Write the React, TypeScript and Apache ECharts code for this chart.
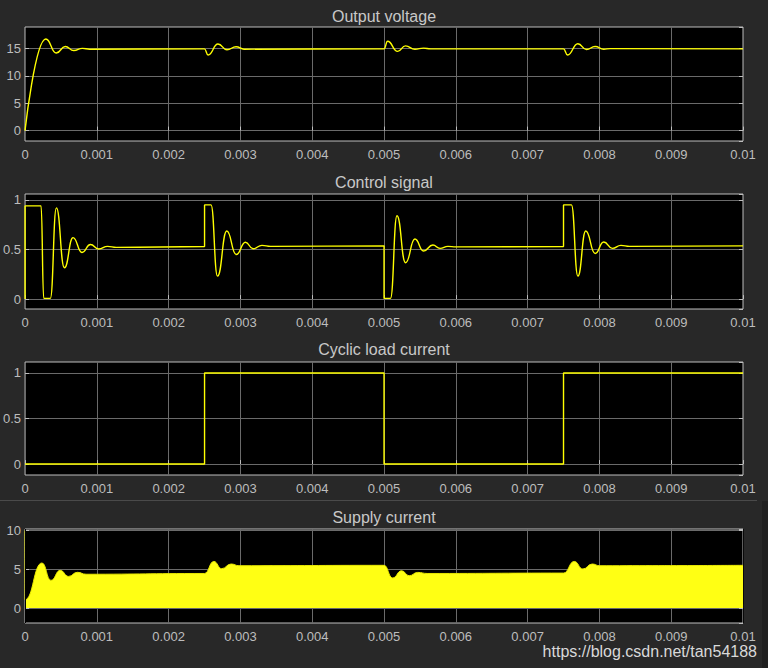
import React, { useEffect, useRef } from "react";
import * as echarts from "echarts";

// Time axis (s)
const timeMin = 0;
const timeMax = 0.01;
const timeStep = 0.001;

const panelTitles = ["Output voltage", "Control signal", "Cyclic load current", "Supply current"];

// Output voltage [t, V]
const outputVoltage: [number, number][] = [
  [0, 0],
  [0.00029, 16.7],
  [0.000436, 14.15],
  [0.00056, 15.35],
  [0.00068, 14.6],
  [0.0008, 15.0],
  [0.0009, 14.85],
  [0.0025, 14.9],
  [0.00255, 13.8],
  [0.002688, 15.8],
  [0.002813, 14.75],
  [0.00294, 15.3],
  [0.00305, 14.85],
  [0.005, 14.9],
  [0.00505, 16.3],
  [0.00519, 14.45],
  [0.0053, 15.45],
  [0.00543, 14.85],
  [0.00555, 15.05],
  [0.00565, 14.9],
  [0.0075, 14.9],
  [0.007557, 13.8],
  [0.0077, 15.85],
  [0.00782, 14.8],
  [0.00794, 15.35],
  [0.00806, 14.85],
  [0.00815, 14.95],
  [0.01, 14.9],
];

// Control signal [t, duty]
const controlSignal: [number, number][] = [
  [0, 0],
  [0, 0.94],
  [0.000223, 0.94],
  [0.00026, 0.007],
  [0.000352, 0.007],
  [0.000436, 0.92],
  [0.000548, 0.316],
  [0.000668, 0.62],
  [0.000793, 0.47],
  [0.00091, 0.55],
  [0.001025, 0.505],
  [0.00115, 0.532],
  [0.00127, 0.522],
  [0.0025, 0.53],
  [0.0025, 0.95],
  [0.00259, 0.95],
  [0.00268, 0.232],
  [0.00281, 0.687],
  [0.00294, 0.45],
  [0.00307, 0.573],
  [0.003175, 0.508],
  [0.0033, 0.542],
  [0.00342, 0.532],
  [0.005, 0.537],
  [0.005, 0.007],
  [0.00509, 0.007],
  [0.00518, 0.84],
  [0.0053, 0.367],
  [0.00543, 0.606],
  [0.00555, 0.485],
  [0.00568, 0.545],
  [0.00578, 0.512],
  [0.00589, 0.532],
  [0.006, 0.527],
  [0.0075, 0.53],
  [0.0075, 0.95],
  [0.00761, 0.95],
  [0.0077, 0.232],
  [0.00781, 0.687],
  [0.00794, 0.46],
  [0.00806, 0.576],
  [0.00818, 0.512],
  [0.0083, 0.542],
  [0.00842, 0.532],
  [0.01, 0.537],
];

// Cyclic load current [t, A]
const loadCurrent: [number, number][] = [
  [0, 0],
  [0.0025, 0],
  [0.0025, 1],
  [0.005, 1],
  [0.005, 0],
  [0.0075, 0],
  [0.0075, 1],
  [0.01, 1],
];

// Supply current envelope [t, A] (switching current fills 0..envelope)
const supplyEnvelope: [number, number][] = [
  [0, 10],
  [0, 1.07],
  [0.000236, 5.8],
  [0.000362, 3.56],
  [0.00049, 4.85],
  [0.000607, 4.07],
  [0.00073, 4.6],
  [0.00085, 4.35],
  [0.0025, 4.45],
  [0.00263, 6.0],
  [0.00274, 5.07],
  [0.00287, 5.67],
  [0.00298, 5.45],
  [0.005, 5.5],
  [0.00512, 3.87],
  [0.005245, 4.8],
  [0.00535, 4.16],
  [0.00547, 4.59],
  [0.0056, 4.45],
  [0.0075, 4.5],
  [0.00765, 6.0],
  [0.00777, 5.03],
  [0.0079, 5.67],
  [0.008, 5.45],
  [0.01, 5.5],
];

// Instants where the switch stays off for a whole period (dark streaks)
const supplyGaps = [
  0.00005, 0.0001, 0.000134, 0.000167, 0.0002, 0.00025, 0.00028, 0.00031, 0.00035, 0.00038,
  0.002527, 0.00258, 0.00505, 0.0051, 0.007535, 0.00758,
];

// y-axis ranges and tick steps
const yMins = [-1.9, -0.1, -0.12, -1.93];
const yMaxs = [18.9, 1.06, 1.12, 10.18];
const ySteps = [5, 0.5, 0.5, 5];

const FONT = '"Liberation Sans", Arial, Helvetica, sans-serif';
const gridTops = [27, 194, 362, 529];
const gridHeights = [114, 115, 113, 94];
const titleYs = [16, 182.5, 349.5, 517.5];

export default function App() {
  const ref = useRef<HTMLDivElement>(null);
  useEffect(() => {
    if (!ref.current) return;
    const chart = echarts.init(ref.current, null, { renderer: "svg" });
    const tickLabel = { color: "#bdbdbd", fontSize: 13, fontFamily: FONT };
    const grids = gridTops.map((top, i) => ({
      left: 25,
      width: 718,
      top,
      height: gridHeights[i],
      show: true,
      backgroundColor: "#000000",
      borderColor: "#bdbdbd",
      borderWidth: 1,
    }));
    const xAxes = gridTops.map((_, i) => ({
      type: "value",
      gridIndex: i,
      min: timeMin,
      max: timeMax,
      interval: timeStep,
      axisLine: { show: false },
      axisTick: { show: true, inside: true, length: 4, lineStyle: { color: "#bdbdbd" } },
      axisLabel: { ...tickLabel, margin: 7, hideOverlap: false },
      splitLine: { show: true, showMinLine: false, showMaxLine: false, lineStyle: { color: "#6a6a6a", width: 1 } },
    }));
    const yAxes: any[] = [];
    gridTops.forEach((_, i) => {
      yAxes.push({
        type: "value",
        gridIndex: i,
        min: yMins[i],
        max: yMaxs[i],
        minInterval: ySteps[i],
        maxInterval: ySteps[i],
        splitNumber: 4,
        axisLine: { show: false },
        axisTick: { show: true, inside: true, length: 4, lineStyle: { color: "#bdbdbd" } },
        axisLabel: { ...tickLabel, margin: 4, showMinLabel: false, showMaxLabel: false },
        splitLine: { show: true, showMinLine: false, showMaxLine: false, lineStyle: { color: "#6a6a6a", width: 1 } },
      });
    });
    gridTops.forEach((_, i) => {
      yAxes.push({
        type: "value",
        gridIndex: i,
        position: "right",
        min: yMins[i],
        max: yMaxs[i],
        minInterval: ySteps[i],
        maxInterval: ySteps[i],
        splitNumber: 4,
        axisLine: { show: false },
        axisTick: { show: true, inside: true, length: 4, lineStyle: { color: "#bdbdbd" } },
        axisLabel: { show: false },
        splitLine: { show: false },
      });
    });
    const lineStyle = { color: "#ffff00", width: 1.4 };
    const option: any = {
      animation: false,
      backgroundColor: "#282828",
      grid: grids,
      xAxis: xAxes,
      yAxis: yAxes,
      series: [
        {
          type: "line",
          xAxisIndex: 0,
          yAxisIndex: 0,
          data: outputVoltage,
          showSymbol: false,
          symbol: "none",
          smooth: 0.5,
          smoothMonotone: "x",
          lineStyle,
        },
        {
          type: "line",
          xAxisIndex: 1,
          yAxisIndex: 1,
          data: controlSignal,
          showSymbol: false,
          symbol: "none",
          smooth: 0.5,
          smoothMonotone: "x",
          lineStyle,
        },
        {
          type: "line",
          xAxisIndex: 2,
          yAxisIndex: 2,
          data: loadCurrent,
          showSymbol: false,
          symbol: "none",
          lineStyle,
        },
        {
          type: "line",
          xAxisIndex: 3,
          yAxisIndex: 3,
          data: supplyEnvelope,
          showSymbol: false,
          symbol: "none",
          smooth: 0.5,
          smoothMonotone: "x",
          lineStyle: { color: "#e8e800", width: 1 },
          areaStyle: { color: "#ffff14", opacity: 1, origin: 0 },
          markLine: {
            silent: true,
            symbol: "none",
            label: { show: false },
            lineStyle: { color: "rgba(0,0,0,0.45)", width: 1, type: "solid" },
            data: supplyGaps.map((t) => ({ xAxis: t })),
          },
        },
      ],
      graphic: [
        ...panelTitles.map((text, i) => ({
          type: "text",
          x: 384,
          y: titleYs[i],
          style: {
            text,
            fill: "#c8c8c8",
            fontSize: 16,
            fontFamily: FONT,
            align: "center",
            verticalAlign: "middle",
          },
        })),
        {
          type: "line",
          shape: { x1: 0, y1: 500.5, x2: 757, y2: 500.5 },
          style: { stroke: "#4a4a4a", lineWidth: 1 },
        },
        {
          type: "rect",
          shape: { x: 762, y: 501, width: 6, height: 167 },
          style: { fill: "#202020" },
        },
        {
          type: "text",
          x: 757,
          y: 651.5,
          style: {
            text: "https://blog.csdn.net/tan54188",
            fill: "#d9d9d9",
            fontSize: 16,
            fontFamily: FONT,
            align: "right",
            verticalAlign: "middle",
          },
        },
      ],
    };
    chart.setOption(option);
    return () => chart.dispose();
  }, []);
  return (
    <div
      ref={ref}
      style={{ position: "absolute", left: 0, top: 0, width: 768, height: 668, background: "#282828" }}
    />
  );
}
